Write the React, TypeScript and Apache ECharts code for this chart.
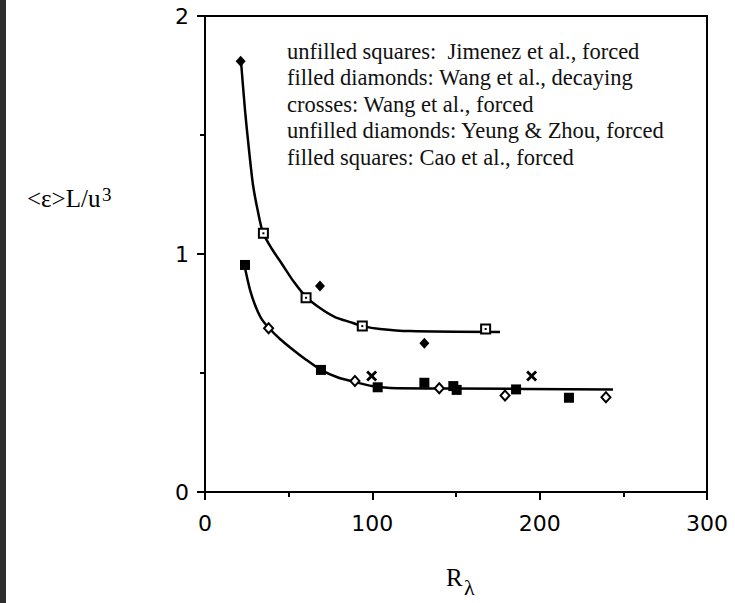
import React, { useEffect, useRef } from "react";
import * as echarts from "echarts";

// x ticks and y ticks
const xTicks = [0, 100, 200, 300];
const yTicks = [0, 1, 2];

// fitted curves [R_lambda, value]
const upperCurve: [number, number][] = [
  [21.5, 1.811], [23.9, 1.605], [26.3, 1.437], [28.7, 1.29], [31.7, 1.176], [34.7, 1.088],
  [40.0, 1.021], [46.0, 0.958], [53.2, 0.882], [60.4, 0.82], [68.7, 0.773], [77.7, 0.735],
  [86.7, 0.714], [94.4, 0.697], [104.6, 0.685], [122.5, 0.676], [176.3, 0.672],
];
const lowerCurve: [number, number][] = [
  [23.9, 0.941], [26.9, 0.849], [29.9, 0.786], [33.5, 0.731], [38.2, 0.689], [44.8, 0.643],
  [52.0, 0.601], [59.8, 0.559], [69.3, 0.513], [79.5, 0.481], [89.6, 0.462], [99.8, 0.445],
  [110.6, 0.437], [146.4, 0.435], [243.8, 0.431],
];

// markers
const unfilledSquares: [number, number][] = [[34.9, 1.087], [60.4, 0.816], [94, 0.697], [167.7, 0.685]];
const filledDiamonds: [number, number][] = [[21.3, 1.81], [68.7, 0.866], [131.1, 0.625]];
const crosses: [number, number][] = [[99.6, 0.487], [195.2, 0.487]];
const unfilledDiamonds: [number, number][] = [[38, 0.688], [89.6, 0.466], [140, 0.436], [179.3, 0.405], [239.6, 0.398]];
const filledSquares: [number, number][] = [
  [23.9, 0.954], [69.3, 0.513], [103.2, 0.44], [131.1, 0.459], [148.4, 0.445],
  [150.4, 0.429], [185.9, 0.431], [217.5, 0.396],
];

const legendLines = [
  "unfilled squares:  Jimenez et al., forced",
  "filled diamonds: Wang et al., decaying",
  "crosses: Wang et al., forced",
  "unfilled diamonds: Yeung & Zhou, forced",
  "filled squares: Cao et al., forced",
];

const CROSS = "path://M0,1.8L1.8,0L5,3.2L8.2,0L10,1.8L6.8,5L10,8.2L8.2,10L5,6.8L1.8,10L0,8.2L3.2,5Z";
const SERIF = "'Liberation Serif', 'Times New Roman', serif";
const SANS = "'DejaVu Sans', sans-serif";

export default function App() {
  const ref = useRef<HTMLDivElement>(null);
  useEffect(() => {
    if (!ref.current) return;
    const chart = echarts.init(ref.current, undefined, { renderer: "svg" });
    const legendGraphics = legendLines.map((t, i) => ({
      type: "text",
      x: 287,
      y: 51 + i * 26.5,
      style: {
        text: t,
        font: `22.5px ${SERIF}`,
        fill: "#111",
        verticalAlign: "middle",
      },
    }));
    const mk = { color: "#000", opacity: 1 };
    chart.setOption({
      animation: false,
      backgroundColor: "#fff",
      grid: {
        left: 205,
        top: 16,
        width: 502,
        height: 476,
        show: true,
        borderColor: "#000",
        borderWidth: 2,
        backgroundColor: "transparent",
      },
      xAxis: {
        type: "value",
        min: xTicks[0],
        max: xTicks[xTicks.length - 1],
        interval: 100,
        splitLine: { show: false },
        axisLine: { lineStyle: { color: "#000", width: 2 } },
        axisTick: { show: true, inside: false, length: 8, lineStyle: { color: "#000", width: 2 } },
        minorTick: { show: true, splitNumber: 2, length: 5, lineStyle: { color: "#000", width: 2 } },
        axisLabel: { color: "#000", fontFamily: SANS, fontSize: 22, margin: 20 },
      },
      yAxis: {
        type: "value",
        min: yTicks[0],
        max: yTicks[yTicks.length - 1],
        interval: 1,
        splitLine: { show: false },
        axisLine: { lineStyle: { color: "#000", width: 2 } },
        axisTick: { show: true, inside: false, length: 8, lineStyle: { color: "#000", width: 2 } },
        minorTick: { show: true, splitNumber: 2, length: 5, lineStyle: { color: "#000", width: 2 } },
        axisLabel: { color: "#000", fontFamily: SANS, fontSize: 22, margin: 16 },
      },
      graphic: [
        { type: "rect", x: 0, y: 0, shape: { width: 6, height: 603 }, style: { fill: "#2e2e2e" } },
        ...legendGraphics,
        {
          type: "text",
          x: 27,
          y: 198,
          style: { text: "<ε>L/u", font: `25px ${SERIF}`, fill: "#000", verticalAlign: "middle" },
        },
        {
          type: "text",
          x: 102,
          y: 194,
          style: { text: "3", font: `19px ${SERIF}`, fill: "#000", verticalAlign: "middle" },
        },
        {
          type: "text",
          x: 446,
          y: 577,
          style: { text: "R", font: `25px ${SERIF}`, fill: "#000", verticalAlign: "middle" },
        },
        {
          type: "text",
          x: 464,
          y: 587,
          style: { text: "λ", font: `22px ${SERIF}`, fill: "#000", verticalAlign: "middle" },
        },
      ],
      series: [
        {
          type: "line", data: upperCurve, smooth: 0.25, showSymbol: false, z: 2,
          lineStyle: { color: "#000", width: 2.5 },
        },
        {
          type: "line", data: lowerCurve, smooth: 0.25, showSymbol: false, z: 2,
          lineStyle: { color: "#000", width: 2.5 },
        },
        {
          type: "scatter", data: unfilledSquares, symbol: "rect", symbolSize: 9, z: 3,
          itemStyle: { color: "#fff", opacity: 1, borderColor: "#000", borderWidth: 2 },
        },
        {
          type: "scatter", data: unfilledSquares, symbol: "rect", symbolSize: 2, z: 4,
          itemStyle: mk,
        },
        {
          type: "scatter", data: filledDiamonds, symbol: "diamond", symbolSize: [10, 11], z: 3,
          itemStyle: mk,
        },
        {
          type: "scatter", data: crosses, symbol: CROSS, symbolSize: 11, z: 3,
          itemStyle: mk,
        },
        {
          type: "scatter", data: unfilledDiamonds, symbol: "diamond", symbolSize: [9, 10], z: 3,
          itemStyle: { color: "#fff", opacity: 1, borderColor: "#000", borderWidth: 2 },
        },
        {
          type: "scatter", data: filledSquares, symbol: "rect", symbolSize: 10, z: 3,
          itemStyle: mk,
        },
      ],
    });
    return () => chart.dispose();
  }, []);
  return (
    <div
      ref={ref}
      style={{ position: "fixed", left: 0, top: 0, width: 735, height: 603, background: "#fff" }}
    />
  );
}
